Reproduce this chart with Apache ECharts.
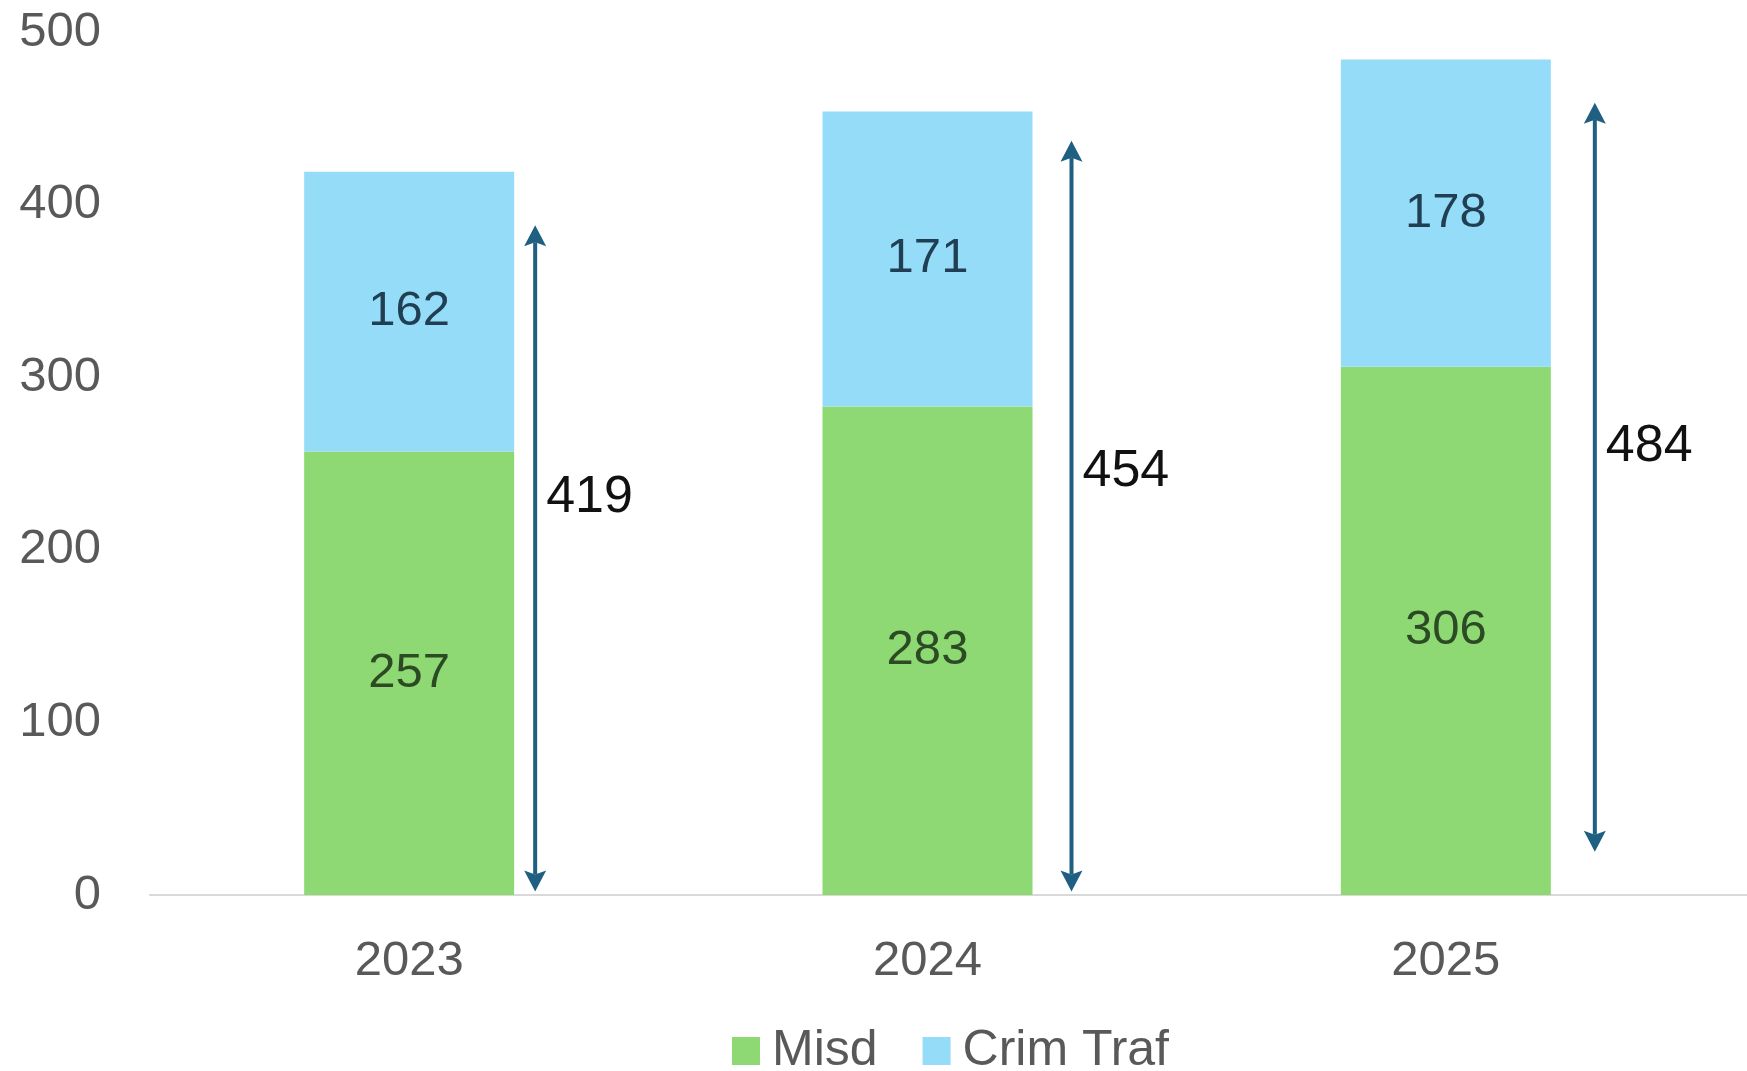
<!DOCTYPE html>
<html>
<head>
<meta charset="utf-8">
<script src="https://cdn.jsdelivr.net/npm/echarts@6/dist/echarts.min.js"></script>
<style>
html,body{margin:0;padding:0;background:#fff;}
#chart{width:1747px;height:1071px;}
</style>
</head>
<body>
<div id="chart"></div>
<script>
// ---- data ----
const categories = ['2023', '2024', '2025'];
const misd = [257, 283, 306];
const crimTraf = [162, 171, 178];
const totals = [419, 454, 484];
// arrows as drawn in the reference (value units): start, end, label level
const arrowStart = [2, 2, 25];
const arrowEnd = [388, 437, 459];
const arrowLabelAt = [230, 245, 260];
const yTicks = [0, 100, 200, 300, 400, 500];

// ---- style / layout ----
const FONT = 'Liberation Sans';
const arrowColor = '#1F5F82';
const arrowOffsetPx = [126, 144, 149];

const arrowData = categories.map((c, i) => [i, arrowStart[i], arrowEnd[i], arrowLabelAt[i], totals[i]]);

const chart = echarts.init(document.getElementById('chart'));
chart.setOption({
  animation: false,
  backgroundColor: '#ffffff',
  textStyle: { fontFamily: FONT },
  grid: [
    { left: 150, right: 42, top: 32, bottom: 176, containLabel: false },
    { left: 150, right: 0, top: 32, bottom: 176, containLabel: false }
  ],
  legend: {
    data: ['Misd', 'Crim Traf'],
    left: 727,
    top: 1021,
    icon: 'rect',
    itemWidth: 28,
    itemHeight: 28,
    itemGap: 45,
    textStyle: { fontSize: 50, color: '#595959', fontFamily: FONT, padding: [0, 0, 0, 7] }
  },
  xAxis: [
    {
      type: 'category',
      gridIndex: 0,
      data: categories,
      axisLine: { show: false },
      axisTick: { show: false },
      axisLabel: { fontSize: 49, color: '#595959', margin: 42, fontFamily: FONT }
    },
    {
      type: 'value',
      gridIndex: 1,
      min: 0, max: 1,
      axisLine: { show: true, onZero: false, lineStyle: { color: '#D9D9D9', width: 2 } },
      axisTick: { show: false },
      axisLabel: { show: false },
      splitLine: { show: false }
    }
  ],
  yAxis: [
    {
      type: 'value',
      gridIndex: 0,
      min: yTicks[0],
      max: yTicks[yTicks.length - 1],
      interval: yTicks[1] - yTicks[0],
      axisLine: { show: false },
      axisTick: { show: false },
      splitLine: { show: false },
      axisLabel: { fontSize: 49, color: '#595959', margin: 49, fontFamily: FONT }
    },
    {
      type: 'value',
      gridIndex: 1,
      show: false,
      min: 0, max: 1
    }
  ],
  series: [
    {
      name: 'Misd',
      type: 'bar',
      stack: 'total',
      data: misd,
      barWidth: 210,
      itemStyle: { color: '#8ED973' },
      label: { show: true, position: 'inside', fontSize: 49, color: '#2C4A24', fontFamily: FONT }
    },
    {
      name: 'Crim Traf',
      type: 'bar',
      stack: 'total',
      data: crimTraf,
      barWidth: 210,
      itemStyle: { color: '#94DCF8' },
      label: { show: true, position: 'inside', fontSize: 49, color: '#213F52', fontFamily: FONT }
    },
    {
      name: 'arrows',
      type: 'custom',
      xAxisIndex: 0,
      yAxisIndex: 0,
      clip: false,
      data: arrowData,
      encode: { x: 0, y: [1, 2] },
      renderItem: function (params, api) {
        const i = api.value(0);
        const p0 = api.coord([i, api.value(1)]);
        const p1 = api.coord([i, api.value(2)]);
        const pl = api.coord([i, api.value(3)]);
        const x = p0[0] + arrowOffsetPx[params.dataIndex];
        const head = 21, hw = 11;
        return {
          type: 'group',
          children: [
            { type: 'line', shape: { x1: x, y1: p0[1] - head + 4, x2: x, y2: p1[1] + head - 4 },
              style: { stroke: arrowColor, lineWidth: 4 } },
            { type: 'polygon', shape: { points: [[x, p1[1]], [x - hw, p1[1] + head], [x, p1[1] + head - 4], [x + hw, p1[1] + head]] },
              style: { fill: arrowColor } },
            { type: 'polygon', shape: { points: [[x, p0[1]], [x - hw, p0[1] - head], [x, p0[1] - head + 4], [x + hw, p0[1] - head]] },
              style: { fill: arrowColor } },
            { type: 'text', x: x + 11, y: pl[1],
              style: { text: String(api.value(4)), fontSize: 52, fill: '#111111', align: 'left', verticalAlign: 'middle', fontFamily: FONT } }
          ]
        };
      }
    }
  ]
});
</script>
</body>
</html>
